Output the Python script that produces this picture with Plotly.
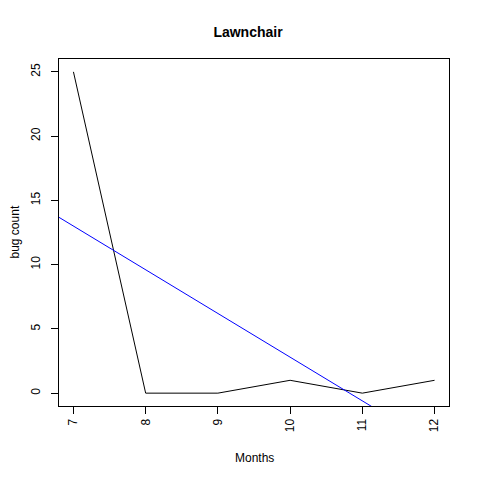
import numpy as np
import plotly.graph_objects as go

months = [7, 8, 9, 10, 11, 12]
bug_count = [25, 0, 0, 1, 0, 1]

# least squares fit, drawn like abline(lm(bug_count ~ months))
slope, intercept = np.polyfit(months, bug_count, 1)
fit_x = [6, 13]
fit_y = [intercept + slope * x for x in fit_x]

fig = go.Figure()
fig.add_trace(go.Scatter(x=months, y=bug_count, mode="lines",
                         line=dict(color="black", width=1)))
fig.add_trace(go.Scatter(x=fit_x, y=fit_y, mode="lines",
                         line=dict(color="blue", width=1)))

font = dict(family="Liberation Sans, Arial", size=12, color="black")
axis_style = dict(showgrid=False, zeroline=False, showline=True, mirror=True,
                  linecolor="black", linewidth=1, ticks="outside", ticklen=7,
                  tickcolor="black", tickangle=-90, automargin=False,
                  tickfont=font)

# page body has an 8px margin, so the figure is offset by 8px
fig.update_layout(
    width=480, height=480,
    margin=dict(l=51, r=39, t=51, b=82),
    paper_bgcolor="white", plot_bgcolor="white",
    showlegend=False,
    title=dict(text="<b>Lawnchair</b>", x=0.5, xanchor="center",
               y=0.95, yanchor="middle",
               font=dict(family="Liberation Sans, Arial", size=14, color="black")),
    xaxis=dict(axis_style, range=[6.8, 12.2], tickvals=months, ticklabelstandoff=0),
    yaxis=dict(axis_style, range=[-1, 26], tickvals=[0, 5, 10, 15, 20, 25],
               ticklabelstandoff=6),
)

# axis titles as annotations so they sit where R puts them
fig.add_annotation(text="Months", xref="paper", yref="paper", x=0.5, y=0,
                   xanchor="center", yanchor="middle", yshift=-52,
                   showarrow=False, font=font)
fig.add_annotation(text="bug count", xref="paper", yref="paper", x=0, y=0.5,
                   xanchor="center", yanchor="middle", xshift=-45, textangle=-90,
                   showarrow=False, font=font)

fig.write_html("out.html")
